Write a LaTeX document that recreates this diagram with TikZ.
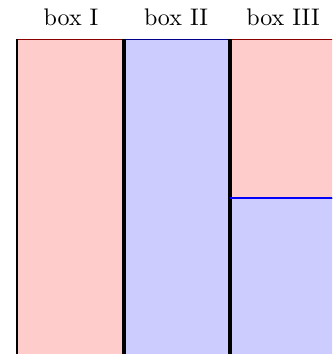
\documentclass[tikz,border=0pt]{standalone}
\usepackage{tikz}
\usetikzlibrary{positioning}

\begin{document}
\begin{tikzpicture}[
    x=0.4167pt, y=-0.4167pt,
    every node/.style={font=\normalsize},
    redbox/.style={fill=red!20, draw=red!55!black, line width=0.4pt},
    bluebox/.style={fill=blue!20, draw=blue!55!black, line width=0.4pt},
    wall/.style={draw=black, line width=1.4pt},
    thinwall/.style={draw=black, line width=0.8pt},
    level/.style={draw=blue, line width=0.8pt},
    boxlabel/.style={anchor=base, inner sep=0pt}
]
    % Page frame
    \useasboundingbox (0,0) rectangle (332,354);
    \clip (0,0) rectangle (332,354);

    % Boxes
    \draw[redbox] (17,39) rectangle (124,360);
    \draw[bluebox] (124,39) rectangle (230,360);
    \draw[redbox] (230,39) rectangle (340,198);
    \draw[bluebox] (230,198) rectangle (340,360);

    % Walls and level
    \draw[thinwall] (17,39) -- (17,360);
    \draw[wall] (124,39) -- (124,360);
    \draw[wall] (230,39) -- (230,360);
    \draw[level] (230,198) -- (340,198);

    % Labels
    \node[boxlabel] (lblI) at (71,26) {box I};
    \node[boxlabel] (lblII) at (176,26) {box II};
    \node[boxlabel] (lblIII) at (283,26) {box III};
\end{tikzpicture}
\end{document}
